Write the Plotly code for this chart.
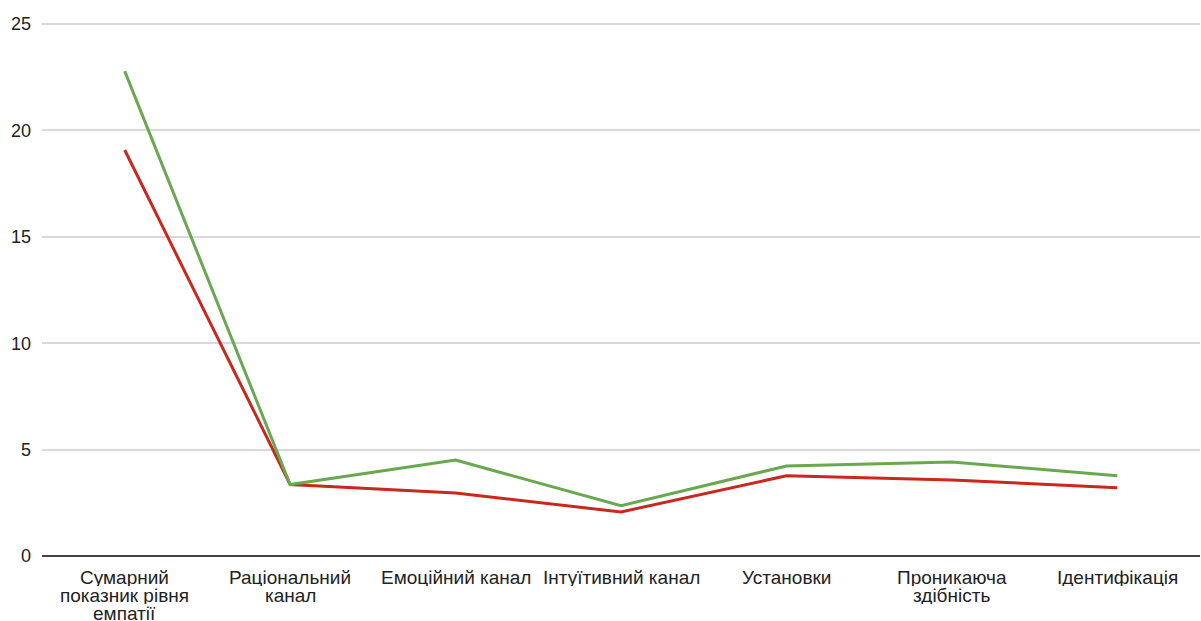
import plotly.graph_objects as go

categories = [
    "Сумарний<br>показник рівня<br>емпатії",
    "Раціональний<br>канал",
    "Емоційний канал",
    "Інтуїтивний канал",
    "Установки",
    "Проникаюча<br>здібність",
    "Ідентифікація",
]
series_green = [22.79, 3.36, 4.51, 2.36, 4.23, 4.42, 3.77]
series_red = [19.08, 3.36, 2.96, 2.07, 3.77, 3.57, 3.21]
y_ticks = [0, 5, 10, 15, 20, 25]

fig = go.Figure()
fig.add_trace(go.Scatter(x=categories, y=series_red, mode="lines",
                         line=dict(color="#c8281e", width=3), name="red"))
fig.add_trace(go.Scatter(x=categories, y=series_green, mode="lines",
                         line=dict(color="#6aa84f", width=3), name="green"))

# category labels with tight line spacing (one annotation per text line)
LINE_PITCH = 18
FIRST_OFFSET = 21
annotations = []
for cat in categories:
    for i, part in enumerate(cat.split("<br>")):
        annotations.append(dict(
            x=cat, y=0, xref="x", yref="y", text=part, showarrow=False,
            yanchor="middle", xanchor="center", borderpad=0,
            height=LINE_PITCH, valign="middle",
            yshift=-(FIRST_OFFSET + i * LINE_PITCH),
            font=dict(family="Liberation Sans, Arial, sans-serif", size=19, color="#222222"),
        ))

fig.update_layout(
    width=1201, height=621,
    margin=dict(l=42, r=1, t=23, b=65, autoexpand=False),
    paper_bgcolor="white", plot_bgcolor="white",
    showlegend=False,
    font=dict(family="Liberation Sans, Arial, sans-serif", size=18, color="#222222"),
    annotations=annotations,
    xaxis=dict(type="category", range=[-0.5, 6.5], showgrid=False, automargin=False,
               showline=False, ticks="", showticklabels=False, zeroline=False),
    yaxis=dict(range=[0, 25.05], tickvals=y_ticks, showgrid=True, automargin=False,
               gridcolor="#d9d9d9", gridwidth=1.5, zeroline=True,
               zerolinecolor="#444444", zerolinewidth=1.5,
               showline=False, ticks="", tickfont=dict(size=18, color="#222222"),
               ticklabelstandoff=10),
)

fig.write_html("out.html")
